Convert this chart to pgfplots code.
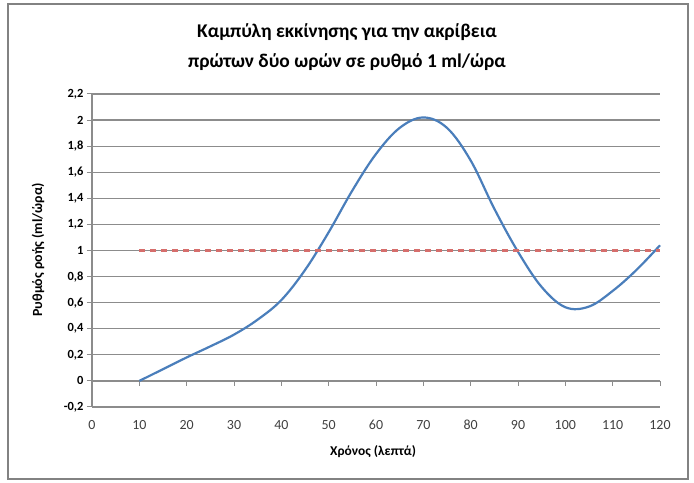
\documentclass[border=0pt]{standalone}
\usepackage{pgfplots}
\pgfplotsset{compat=1.18}
\usepackage{fontspec}
\setmainfont{Carlito}
\definecolor{curveblue}{RGB}{74,126,187}
\definecolor{dashred}{RGB}{214,110,108}
\definecolor{gridgray}{RGB}{140,140,140}
\definecolor{framegray}{RGB}{130,130,130}
\pgfplotstableread{
x y
10 0
15 0.09
20 0.18
25 0.265
30 0.355
35 0.47
40 0.62
45 0.85
50 1.14
55 1.46
60 1.74
65 1.94
70 2.02
75 1.94
80 1.69
85 1.32
90 0.99
95 0.72
100 0.565
105 0.57
110 0.69
115 0.85
120 1.04
}\flowdata
\pgfplotstableread{
x y
10 1
120 1
}\refdata
\begin{document}
\begin{tikzpicture}[x=1bp,y=1bp]
\path (-92,-76) rectangle (602,407);
\draw[framegray, line width=1.2bp] (-84,-72) rectangle (596,403);
\begin{axis}[
  at={(0,0)}, anchor=south west,
  scale only axis, width=568bp, height=313bp,
  xmin=0, xmax=120, ymin=-0.2, ymax=2.2,
  xtick={0,10,...,120},
  ytick={-0.2,0,0.2,0.4,0.6,0.8,1,1.2,1.4,1.6,1.8,2,2.2},
  axis x line*=middle, axis y line*=left,
  hide obscured x ticks=false, hide obscured y ticks=false,
  axis line style={-, gridgray, line width=1.2bp},
  ymajorgrids, grid style={gridgray, line width=1.2bp},
  tick align=outside, major tick length=5bp,
  tick style={gridgray, line width=1bp},
  /pgf/number format/assume math mode=true,
  /pgf/number format/use comma,
  yticklabel style={font=\fontsize{12.5}{14}\selectfont\bfseries, /pgf/number format/fixed, /pgf/number format/precision=1},
  xticklabel style={font=\fontsize{14}{16}\selectfont, text=black!75, yshift=-31bp},
  clip=false,
]
\addplot[curveblue, line width=2.2bp, smooth, tension=0.6] table[x=x,y=y]{\flowdata};
\addplot[dashred, line width=2.2bp, dash pattern=on 6bp off 5bp] table[x=x,y=y]{\refdata};
\end{axis}
\node[font=\fontsize{19.5}{22}\selectfont\bfseries] at (255,375) {Καμπύλη εκκίνησης για την ακρίβεια};
\node[font=\fontsize{19.5}{22}\selectfont\bfseries] at (255,345) {πρώτων δύο ωρών σε ρυθμό 1 ml/ώρα};
\node[font=\fontsize{14}{16}\selectfont\bfseries, rotate=90] at (-54,157) {Ρυθμός ροής (ml/ώρα)};
\node[font=\fontsize{13.5}{16}\selectfont\bfseries] at (281,-45) {Χρόνος (λεπτά)};
\end{tikzpicture}
\end{document}
